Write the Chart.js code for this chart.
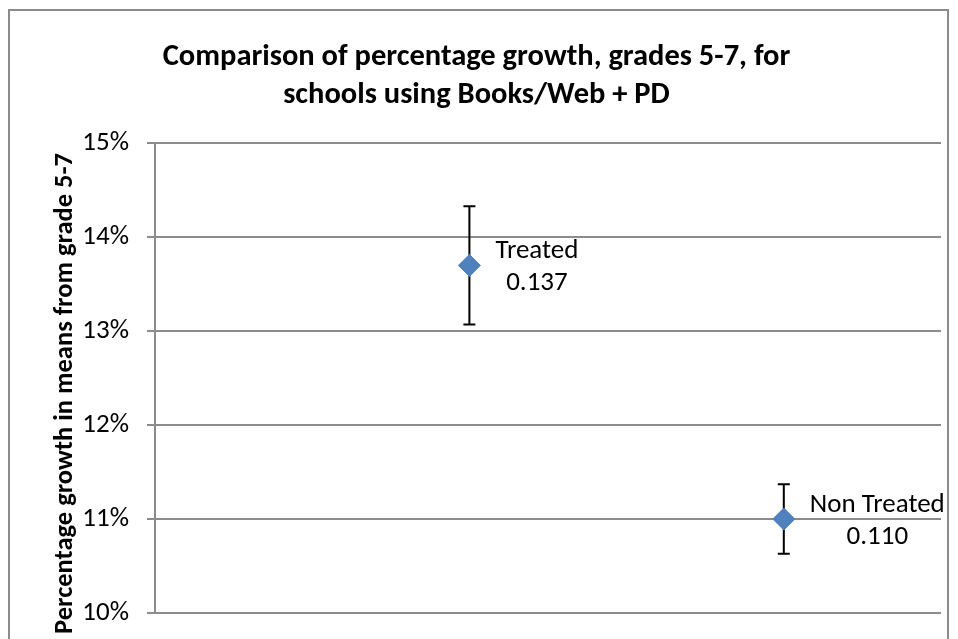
<!DOCTYPE html>
<html>
<head>
<meta charset="utf-8">
<script src="https://cdn.jsdelivr.net/npm/chart.js@4.4.1/dist/chart.umd.min.js"></script>
<style>
  html, body { margin: 0; padding: 0; background: #fff; overflow: hidden; }
  #wrap { position: relative; width: 958px; height: 690px; }
  #frame { position: absolute; left: 8px; top: 9px; width: 941px; height: 700px; border: 2px solid #8c8c8c; box-sizing: border-box; }
  canvas { position: absolute; left: 0; top: 0; }
</style>
</head>
<body>
<div id="wrap">
  <div id="frame"></div>
  <canvas id="myChart" width="958" height="690"></canvas>
</div>
<script>
/**
 * Growth comparison, grades 5-7.
 */

var groups    = ['Treated', 'Non Treated'];
var xSlots    = [1, 2];
var growth    = [0.137, 0.110];
var errorBars = [0.0063, 0.0037];

var yMin  = 0.10;
var yMax  = 0.15;
var yStep = 0.01;

var FONT = 'Carlito, Lato, sans-serif';

var points = growth.map((v, i) => ({ x: xSlots[i], y: v }));

// error bars + point labels, drawn through the scales
var extras = {
    id: 'extras',
    beforeDatasetsDraw(chart) {
        var ctx = chart.ctx;
        var xs = chart.scales.x, ys = chart.scales.y;
        ctx.save();
        ctx.strokeStyle = '#000';
        ctx.lineWidth = 2;
        growth.forEach((v, i) => {
            var px = xs.getPixelForValue(xSlots[i]);
            var top = ys.getPixelForValue(v + errorBars[i]);
            var bot = ys.getPixelForValue(v - errorBars[i]);
            ctx.beginPath();
            ctx.moveTo(px, top); ctx.lineTo(px, bot);
            ctx.moveTo(px - 6, top); ctx.lineTo(px + 6, top);
            ctx.moveTo(px - 6, bot); ctx.lineTo(px + 6, bot);
            ctx.stroke();
        });
        ctx.restore();
    },
    afterDatasetsDraw(chart) {
        var ctx = chart.ctx;
        var xs = chart.scales.x, ys = chart.scales.y;
        ctx.save();
        ctx.fillStyle = '#000';
        ctx.font = '27px ' + FONT;
        ctx.textBaseline = 'middle';
        ctx.textAlign = 'center';
        growth.forEach((v, i) => {
            var px = xs.getPixelForValue(xSlots[i]);
            var py = ys.getPixelForValue(v);
            var lines = [groups[i], v.toFixed(3)];
            var w = Math.max(...lines.map(t => ctx.measureText(t).width));
            var cx = px + 26 + w / 2;
            ctx.fillText(lines[0], cx, py - 14);
            ctx.fillText(lines[1], cx, py + 18);
        });
        // y axis title
        ctx.font = 'bold 26.5px ' + FONT;
        ctx.translate(65, 0);
        ctx.rotate(-Math.PI / 2);
        ctx.textAlign = 'right';
        ctx.fillText('Percentage growth in means from grade 5-7', -153, 0);
        ctx.restore();
    }
};

var ctx = document.getElementById('myChart').getContext('2d');

var chart = new Chart(ctx, {
    type: 'scatter',

    data: {
        datasets: [{
            label: 'Growth',
            data: points,
            pointStyle: 'rectRot',
            pointRadius: 11,
            pointHoverRadius: 11,
            backgroundColor: '#4f81bd',
            borderColor: '#4f81bd',
            borderWidth: 1
        }]
    },

    options: {
        responsive: false,
        animation: false,
        layout: { padding: { left: 0, right: 5, top: 0, bottom: 77 } },
        plugins: {
            legend: { display: false },
            tooltip: { enabled: false },
            title: {
                display: true,
                text: ['Comparison of percentage growth, grades 5-7, for', 'schools using Books/Web + PD'],
                color: '#000',
                font: { family: FONT, size: 30.5, weight: 'bold', lineHeight: 1.25 },
                padding: { top: 38, bottom: 29 }
            }
        },
        scales: {
            x: { type: 'linear', min: 0, max: 2.5, display: false },
            y: {
                min: yMin,
                max: yMax,
                afterFit(scale) { scale.width = 155; },
                ticks: {
                    stepSize: yStep,
                    color: '#000',
                    padding: 18,
                    font: { family: FONT, size: 27 },
                    callback: v => Math.round(v * 100) + '%'
                },
                grid: { color: '#8c8c8c', lineWidth: 2, tickLength: 8 },
                border: { color: '#8c8c8c', width: 2 }
            },
            // empty right gutter so the title centres on the frame
            yRight: {
                position: 'right',
                min: yMin,
                max: yMax,
                afterFit(scale) { scale.width = 12; },
                ticks: { display: false },
                grid: { display: false },
                border: { display: false }
            }
        }
    },

    plugins: [extras]
});
</script>
</body>
</html>
